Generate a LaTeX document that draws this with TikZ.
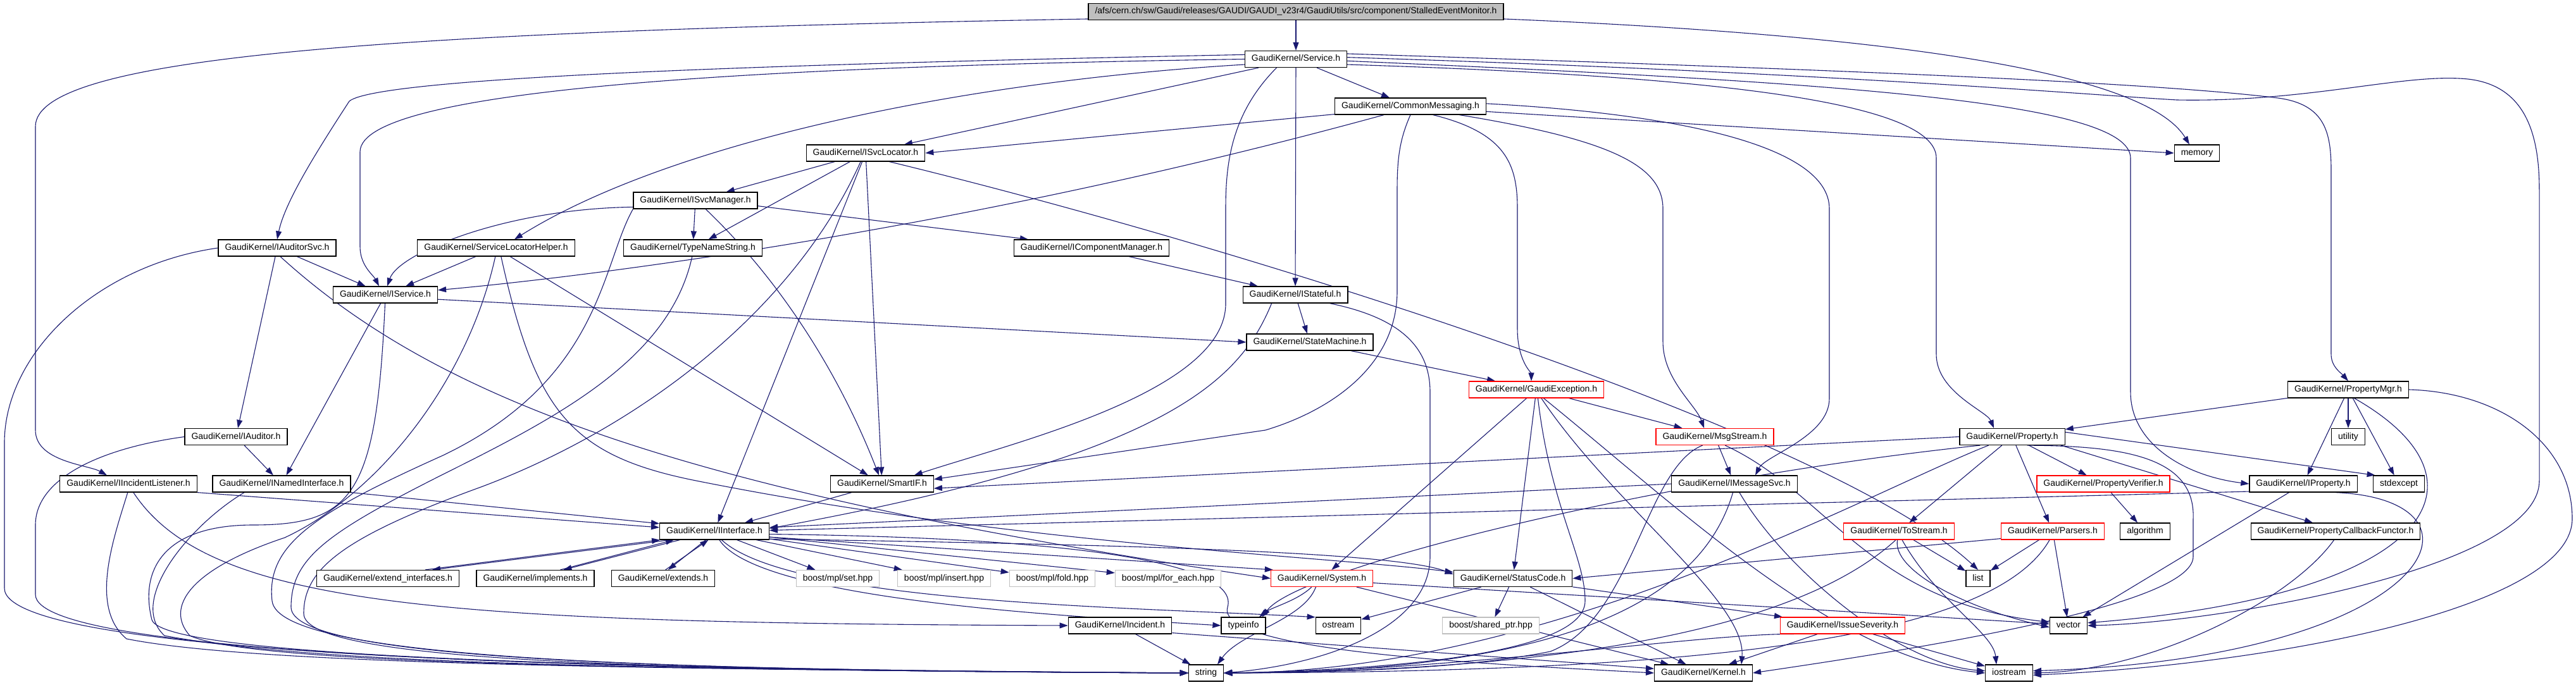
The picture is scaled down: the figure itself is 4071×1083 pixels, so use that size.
\documentclass[tikz,border=0pt]{standalone}
\usepackage{fontspec}
\usepackage{tikz}
\usepackage{xcolor}
\usetikzlibrary{arrows.meta, backgrounds}
\newfontfamily\graphfont{Liberation Sans}
\definecolor{edgeblue}{RGB}{25,25,112}
\definecolor{boxgrey}{RGB}{191,191,191}

\begin{document}
\begin{tikzpicture}[x=1pt, y=-1pt,
    box/.style={draw=black, fill=white, line width=1.2pt, inner xsep=10.5pt, inner ysep=0pt, minimum height=26pt, text height=10pt, text depth=3pt, font=\graphfont\fontsize{14}{16}\selectfont},
    redbox/.style={box, draw=red},
    greybox/.style={box, draw=boxgrey},
    rootbox/.style={box, fill=boxgrey},
    incl/.style={draw=edgeblue, line width=1.1pt, -{Triangle[length=13pt, width=9pt]}}]
    \useasboundingbox (0,0) rectangle (4071,1083);

    \node[rootbox] (root) at (2048, 18.5) {/afs/cern.ch/sw/Gaudi/releases/GAUDI/GAUDI\_v23r4/GaudiUtils/src/component/StalledEventMonitor.h};
    \node[box] (svc) at (2048, 93.5) {GaudiKernel/Service.h};
    \node[box] (cmsg) at (2229, 168) {GaudiKernel/CommonMessaging.h};
    \node[box] (isl) at (1368, 242) {GaudiKernel/ISvcLocator.h};
    \node[box] (mem) at (3472, 242) {memory};
    \node[box] (ism) at (1099, 317) {GaudiKernel/ISvcManager.h};
    \node[box] (ias) at (438, 392) {GaudiKernel/IAuditorSvc.h};
    \node[box] (slh) at (784, 392) {GaudiKernel/ServiceLocatorHelper.h};
    \node[box] (tns) at (1095, 392) {GaudiKernel/TypeNameString.h};
    \node[box] (icm) at (1725, 392) {GaudiKernel/IComponentManager.h};
    \node[box] (isv) at (609, 466) {GaudiKernel/IService.h};
    \node[box] (ist) at (2047, 466) {GaudiKernel/IStateful.h};
    \node[box] (stm) at (2070, 541) {GaudiKernel/StateMachine.h};
    \node[redbox] (gex) at (2428, 616) {GaudiKernel/GaudiException.h};
    \node[box] (pmg) at (3711, 616) {GaudiKernel/PropertyMgr.h};
    \node[box] (iau) at (373, 690.5) {GaudiKernel/IAuditor.h};
    \node[redbox] (msg) at (2710, 690.5) {GaudiKernel/MsgStream.h};
    \node[box] (prp) at (3180, 690.5) {GaudiKernel/Property.h};
    \node[box] (utl) at (3711, 690.5) {utility};
    \node[box] (iil) at (203, 765) {GaudiKernel/IIncidentListener.h};
    \node[box] (ini) at (445, 765) {GaudiKernel/INamedInterface.h};
    \node[box] (sif) at (1394, 765) {GaudiKernel/SmartIF.h};
    \node[box] (ims) at (2741, 765) {GaudiKernel/IMessageSvc.h};
    \node[redbox] (pvf) at (3324, 765) {GaudiKernel/PropertyVerifier.h};
    \node[box] (ipr) at (3640, 765) {GaudiKernel/IProperty.h};
    \node[box] (sxc) at (3791, 765) {stdexcept};
    \node[box] (iif) at (1129, 840) {GaudiKernel/IInterface.h};
    \node[redbox] (tst) at (3001, 840) {GaudiKernel/ToStream.h};
    \node[redbox] (prs) at (3244, 840) {GaudiKernel/Parsers.h};
    \node[box] (alg) at (3390, 840) {algorithm};
    \node[box] (pcf) at (3691, 840) {GaudiKernel/PropertyCallbackFunctor.h};
    \node[box] (ext) at (613, 914.5) {GaudiKernel/extend\_interfaces.h};
    \node[box] (imp) at (846, 914.5) {GaudiKernel/implements.h};
    \node[box] (exs) at (1048, 914.5) {GaudiKernel/extends.h};
    \node[greybox] (mset) at (1324, 914.5) {boost/mpl/set.hpp};
    \node[greybox] (mins) at (1492, 914.5) {boost/mpl/insert.hpp};
    \node[greybox] (mfld) at (1663, 914.5) {boost/mpl/fold.hpp};
    \node[greybox] (mfe) at (1846, 914.5) {boost/mpl/for\_each.hpp};
    \node[redbox] (sys) at (2089, 914.5) {GaudiKernel/System.h};
    \node[box] (stc) at (2391, 914.5) {GaudiKernel/StatusCode.h};
    \node[box] (lst) at (3126, 914.5) {list};
    \node[box] (inc) at (1770, 989) {GaudiKernel/Incident.h};
    \node[box] (tpi) at (1965, 989) {typeinfo};
    \node[box] (ost) at (2115, 989) {ostream};
    \node[greybox] (shp) at (2356, 989) {boost/shared\_ptr.hpp};
    \node[redbox] (isvr) at (2912, 989) {GaudiKernel/IssueSeverity.h};
    \node[box] (vec) at (3269, 989) {vector};
    \node[box] (str) at (1906, 1064) {string};
    \node[box] (krn) at (2692, 1064) {GaudiKernel/Kernel.h};
    \node[box] (ios) at (3175, 1064) {iostream};

    \begin{pgfonlayer}{background}
    \fill[white] (0,0) rectangle (4071,1083);

    \draw[incl] (root) -- (svc);
    \draw[incl] (root.182) .. controls (600,50) and (56,90) .. (56,200) -- (56,680) .. controls (56,730) and (140,735) .. ([xshift=-34pt]iil.north);
    \draw[incl] (root.-2) .. controls (3100,60) and (3400,130) .. ([xshift=-12pt]mem.north);

    \draw[incl] (svc.175) .. controls (1300,100) and (600,120) .. (552,160) .. controls (500,240) and (450,320) .. (ias.north);
    \draw[incl] (svc.180) .. controls (1200,105) and (569,140) .. (569,240) -- (569,390) .. controls (569,420) and (590,435) .. ([xshift=-10pt]isv.north);
    \draw[incl] (svc.186) .. controls (1500,130) and (1050,230) .. ([xshift=29pt]slh.north);
    \draw[incl] (svc.193) -- ([xshift=61pt]isl.north);
    \draw[incl] (svc) -- (cmsg);
    \draw[incl] (svc.204) .. controls (1945,180) and (1937,260) .. (1937,330) -- (1937,480) .. controls (1937,620) and (1600,700) .. (sif.15);
    \draw[incl] (svc) -- (ist);
    \draw[incl] (svc.6) .. controls (2900,110) and (3400,130) .. (3600,155) .. controls (3675,165) and (3684,210) .. (3684,270) -- (3684,560) .. controls (3684,580) and (3700,590) .. (pmg.north);
    \draw[incl] (svc.2) .. controls (2900,115) and (3300,150) .. (3440,158) .. controls (3650,162) and (3800,115) .. (3900,125) .. controls (3990,135) and (4013,210) .. (4013,300) -- (4013,760) .. controls (4013,900) and (3500,985) .. (vec.east);
    \draw[incl] (svc.-2) .. controls (2900,130) and (3367,160) .. (3367,250) -- (3367,620) .. controls (3367,700) and (3450,752) .. (ipr.west);
    \draw[incl] (svc.-6) .. controls (2700,120) and (3060,160) .. (3060,250) -- (3060,560) .. controls (3060,620) and (3140,650) .. ([xshift=-29pt]prp.north);

    \draw[incl] (cmsg.186) -- (isl.east);
    \draw[incl] (cmsg.198) .. controls (1500,370) and (900,440) .. (isv.5);
    \draw[incl] (cmsg.south) .. controls (2212,220) and (2208,250) .. (2208,300) -- (2208,460) .. controls (2208,580) and (2100,650) .. (2000,680) -- (sif.5);
    \draw[incl] (cmsg.-21) .. controls (2380,210) and (2398,260) .. (2398,330) -- (2398,520) .. controls (2398,570) and (2420,590) .. ([xshift=-8pt]gex.north);
    \draw[incl] (cmsg.-10) .. controls (2540,220) and (2628,260) .. (2628,330) -- (2628,540) .. controls (2628,600) and (2680,640) .. ([xshift=-17pt]msg.north);
    \draw[incl] (cmsg.2) .. controls (2650,180) and (2891,230) .. (2891,330) -- (2891,630) .. controls (2891,690) and (2790,720) .. ([xshift=33pt]ims.north);
    \draw[incl] (cmsg.-4) -- (mem.west);

    \draw[incl] (isl) -- (ism);
    \draw[incl] (isl) -- (tns);
    \draw[incl] (isl) -- (iif);
    \draw[incl] (isl) -- (sif);
    \draw[incl] (isl.-20) .. controls (2000,400) and (2900,690) .. (lst.north);
    \draw[incl] (isl.240) .. controls (1250,500) and (1000,680) .. (760,770) .. controls (540,850) and (480,900) .. (480,970) .. controls (480,1045) and (1000,1060) .. (str.west);

    \draw[incl] (ism.186) .. controls (800,330) and (630,400) .. ([xshift=3pt]isv.north);
    \draw[incl] (ism) -- (tns);
    \draw[incl] (ism.-40) .. controls (1240,450) and (1330,600) .. ([xshift=-5pt]sif.north);
    \draw[incl] (ism.-5) -- ([xshift=-100pt]icm.north);
    \draw[incl] (ism.south west) .. controls (950,420) and (950,600) .. (700,720) .. controls (500,810) and (420,860) .. (430,950) .. controls (440,1040) and (1000,1060) .. (str.west);

    \draw[incl] (tns.-95) .. controls (1060,560) and (900,650) .. (720,740) .. controls (520,840) and (460,880) .. (460,960) .. controls (460,1040) and (1000,1060) .. (str.west);
    \draw[incl] (icm) -- (ist);

    \draw[incl] (ias) -- (isv);
    \draw[incl] (ias) -- (iau);
    \draw[incl] (ias.-70) .. controls (700,640) and (1100,780) .. (sys.west);
    \draw[incl] (ias.west) .. controls (150,420) and (7,560) .. (7,700) -- (7,930) .. controls (7,1040) and (1000,1060) .. (str.west);

    \draw[incl] (slh) -- (isv);
    \draw[incl] (slh) -- (sif);
    \draw[incl] (slh.-60) .. controls (846,650) and (900,720) .. (1100,760) .. controls (1600,860) and (2100,880) .. (stc.174);
    \draw[incl] (slh.-95) .. controls (740,600) and (600,780) .. (450,850) .. controls (300,900) and (260,960) .. (300,1005) .. controls (400,1050) and (1000,1058) .. (str.west);

    \draw[incl] (isv) -- (ini);
    \draw[incl] (isv.-5) -- (stm.west);
    \draw[incl] (isv.-92) .. controls (595,780) and (560,830) .. (400,830) .. controls (260,830) and (220,900) .. (240,980) .. controls (260,1040) and (1000,1058) .. (str.west);

    \draw[incl] (ist.200) .. controls (1960,600) and (1850,720) .. (iif.3);
    \draw[incl] (ist) -- (stm);
    \draw[incl] (ist.-14) .. controls (2200,500) and (2260,540) .. (2260,620) -- (2260,880) .. controls (2260,990) and (2100,1050) .. (str.east);
    \draw[incl] (stm) -- (gex);

    \draw[incl] (gex) -- (sys);
    \draw[incl] (gex) -- (stc);
    \draw[incl] (gex) -- (msg);
    \draw[incl] (gex.-80) .. controls (2450,800) and (2505,880) .. (2505,950) .. controls (2505,1040) and (2150,1060) .. (str.east);
    \draw[incl] (gex.-60) .. controls (2550,800) and (2760,950) .. ([xshift=60pt]krn.north);
    \draw[incl] (gex.-50) .. controls (2650,800) and (2900,1040) .. (ios.west);

    \draw[incl] (msg) -- (ims);
    \draw[incl] (msg.215) .. controls (2600,740) and (2580,980) .. (2450,1030) .. controls (2300,1060) and (2100,1062) .. (str.east);
    \draw[incl] (msg.-40) .. controls (2890,780) and (2950,950) .. (vec.170);

    \draw[incl] (ims.west) -- (iif.4);
    \draw[incl] (ims.-100) .. controls (2680,980) and (2400,1062) .. (str.east);
    \draw[incl] (ims.-60) .. controls (2820,900) and (3000,1050) .. (ios.175);

    \draw[incl] (pmg) -- (prp);
    \draw[incl] (pmg) -- (ipr);
    \draw[incl] (pmg) -- (utl);
    \draw[incl] (pmg) -- (sxc);
    \draw[incl] (pmg.-55) .. controls (3950,760) and (3850,940) .. (vec.8);
    \draw[incl] (pmg.east) .. controls (3950,620) and (4065,700) .. (4065,820) .. controls (4065,960) and (3600,1050) .. (ios.-5);

    \draw[incl] (prp.west) -- (sif.-5);
    \draw[incl] (prp) -- (pvf);
    \draw[incl] (prp) -- (prs);
    \draw[incl] (prp) -- (tst);
    \draw[incl] (prp.-10) -- ([xshift=-36pt]pcf.north);
    \draw[incl] (prp.5) -- (sxc.160);
    \draw[incl] (prp.195) .. controls (2600,760) and (2050,900) .. ([xshift=30pt]tpi.north);
    \draw[incl] (prp.200) .. controls (2950,780) and (2450,1062) .. (str.east);
    \draw[incl] (prp.-30) .. controls (3350,705) and (3470,720) .. (3466,820) -- (3466,880) .. controls (3466,960) and (3000,1030) .. (krn.east);

    \draw[incl] (pvf) -- (alg);
    \draw[incl] (ipr.188) -- (iif.1);
    \draw[incl] (ipr) -- (vec);
    \draw[incl] (ipr.-15) .. controls (3960,790) and (3850,1040) .. (ios.5);
    \draw[incl] (pcf.-100) .. controls (3620,950) and (3400,1060) .. (ios.east);

    \draw[incl] (tst) -- (lst);
    \draw[incl] (tst.-100) .. controls (2990,900) and (3100,960) .. (vec.185);
    \draw[incl] (tst.-70) .. controls (3060,950) and (3150,1000) .. ([xshift=-20pt]ios.north);
    \draw[incl] (tst.250) .. controls (2880,960) and (2600,1060) .. (str.east);

    \draw[incl] (prs.188) -- (stc.east);
    \draw[incl] (prs) -- (lst);
    \draw[incl] (prs) -- (vec);
    \draw[incl] (prs.250) .. controls (3150,1010) and (2700,1062) .. (str.east);

    \draw[incl] (iau) -- (ini);
    \draw[incl] (iau.west) .. controls (150,710) and (56,760) .. (56,830) -- (56,940) .. controls (56,1040) and (1000,1060) .. (str.west);

    \draw[incl] (iil.south east) -- (iif.176);
    \draw[incl] (iil.-60) .. controls (330,960) and (700,985) .. (inc.west);
    \draw[incl] (iil.-95) .. controls (180,850) and (140,960) .. (200,1010) .. controls (400,1050) and (1000,1058) .. (str.west);

    \draw[incl] (ini.south east) -- (iif.172);
    \draw[incl] (ini.193) .. controls (300,830) and (200,950) .. (260,1005) .. controls (500,1050) and (1000,1058) .. (str.west);

    \draw[incl] (sif) -- (iif);

    \draw[incl] (iif.191) -- (ext.11);
    \draw[incl] (ext.13) -- (iif.189);
    \draw[incl] (iif.194) -- (imp.17);
    \draw[incl] (imp.19) -- (iif.192);
    \draw[incl] (iif.225) -- (exs.60);
    \draw[incl] (exs.75) -- (iif.235);
    \draw[incl] (iif) -- (mset);
    \draw[incl] (iif) -- (mins);
    \draw[incl] (iif) -- (mfld);
    \draw[incl] (iif) -- (mfe);
    \draw[incl] (iif.-6) -- (sys.170);
    \draw[incl] (iif.-8) .. controls (1700,860) and (2200,870) .. (stc.176);
    \draw[incl] (iif.-3) .. controls (1700,850) and (1960,890) .. (1940,960) .. controls (1920,1030) and (2350,1050) .. (krn.west);
    \draw[incl] (iif.-50) .. controls (1250,955) and (1800,960) .. (ost.160);
    \draw[incl] (iif.-60) .. controls (1200,950) and (1700,975) .. (tpi.west);

    \draw[incl] (sys.220) .. controls (2050,950) and (2010,960) .. ([xshift=25pt]tpi.north);
    \draw[incl] (sys.235) .. controls (2060,980) and (1960,1000) .. ([xshift=18pt]str.north);
    \draw[incl] (sys) -- (krn);
    \draw[incl] (sys.-5) -- (vec.175);

    \draw[incl] (stc) -- (ost);
    \draw[incl] (stc) -- (shp);
    \draw[incl] (stc) -- (krn);
    \draw[incl] (stc) -- (isvr);

    \draw[incl] (inc) -- (str);
    \draw[incl] (inc.-8) -- (krn.175);

    \draw[incl] (isvr.190) .. controls (2700,1000) and (2300,1062) .. (str.east);
    \draw[incl] (isvr) -- (krn);
    \draw[incl] (isvr) -- (ios);
    \end{pgfonlayer}
\end{tikzpicture}
\end{document}
